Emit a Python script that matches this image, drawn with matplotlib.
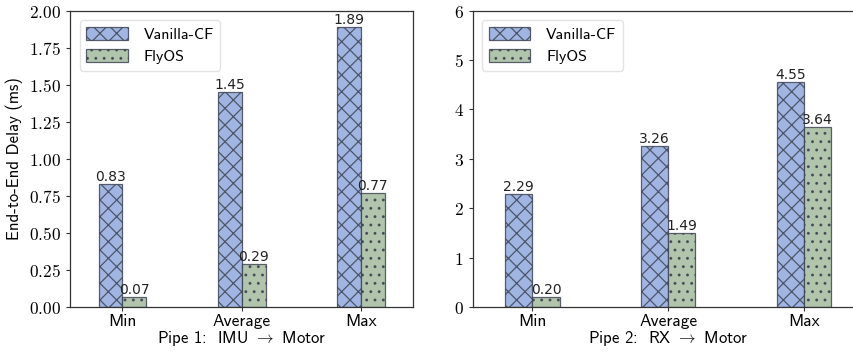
import matplotlib
matplotlib.use('Agg')
import matplotlib.pyplot as plt
from matplotlib.ticker import FuncFormatter
import numpy as np

plt.rcParams['mathtext.fontset'] = 'cm'
plt.rcParams['hatch.linewidth'] = 0.9

categories = ['Min', 'Average', 'Max']
series_names = ['Vanilla-CF', 'FlyOS']
pipe1_vanilla = [0.83, 1.45, 1.89]
pipe1_flyos = [0.07, 0.29, 0.77]
pipe2_vanilla = [2.29, 3.26, 4.55]
pipe2_flyos = [0.20, 1.49, 3.64]
pipe1_label = r'Pipe 1:  IMU $\rightarrow$ Motor'
pipe2_label = r'Pipe 2:  RX $\rightarrow$ Motor'

blue = '#a0b5e1'
green = '#b0c5ab'
edge = (0.22, 0.24, 0.3, 0.8)
sans = 'cmss10'

fig = plt.figure(figsize=(8.54, 3.54), dpi=100)
ax1 = fig.add_axes([0.082, 0.1328, 0.402, 0.837])
ax2 = fig.add_axes([0.5535, 0.1328, 0.458, 0.837])

def draw(ax, vanilla, flyos, ymax, step, fmt, xlabel):
    x = np.arange(len(categories))
    w = 0.2
    b1 = ax.bar(x - w / 2, vanilla, w, color=blue, edgecolor=edge, linewidth=0.9,
                hatch='xx', label=series_names[0])
    b2 = ax.bar(x + w / 2, flyos, w, color=green, edgecolor=edge, linewidth=0.9,
                hatch='..', label=series_names[1])
    for bars, vals in ((b1, vanilla), (b2, flyos)):
        for r, v in zip(bars, vals):
            ax.text(r.get_x() + r.get_width() / 2, v, '%.2f' % v, ha='center', va='bottom',
                    fontsize=10, family='DejaVu Sans', color='#222222')
    ax.set_xlim(-0.44, 2.44)
    ax.set_ylim(0, ymax)
    ax.set_yticks(np.arange(0, ymax + step / 2, step))
    ax.yaxis.set_major_formatter(FuncFormatter(lambda v, p: '$' + fmt % v + '$'))
    ax.set_xticks(x)
    ax.set_xticklabels(categories, family=sans, fontsize=12.5)
    ax.set_xlabel(xlabel, family=sans, fontsize=12, labelpad=0)
    ax.tick_params(axis='y', labelsize=12.5, length=3, color='#333333')
    ax.tick_params(axis='x', length=3, color='#333333', pad=2)
    for s in ax.spines.values():
        s.set_color('#333333')
        s.set_linewidth(0.9)
    leg = ax.legend(loc='upper left', prop={'family': sans, 'size': 11.5},
                    handlelength=2.6, handleheight=0.9, borderaxespad=0.6,
                    handletextpad=1.0, labelspacing=0.45)
    leg.get_frame().set_edgecolor('#dddddd')

draw(ax1, pipe1_vanilla, pipe1_flyos, 2.0, 0.25, '%.2f', pipe1_label)
draw(ax2, pipe2_vanilla, pipe2_flyos, 6, 1, '%d', pipe2_label)
ax1.set_ylabel('End-to-End Delay (ms)', family=sans, fontsize=12, labelpad=4)

fig.savefig('out.png', dpi=100)
